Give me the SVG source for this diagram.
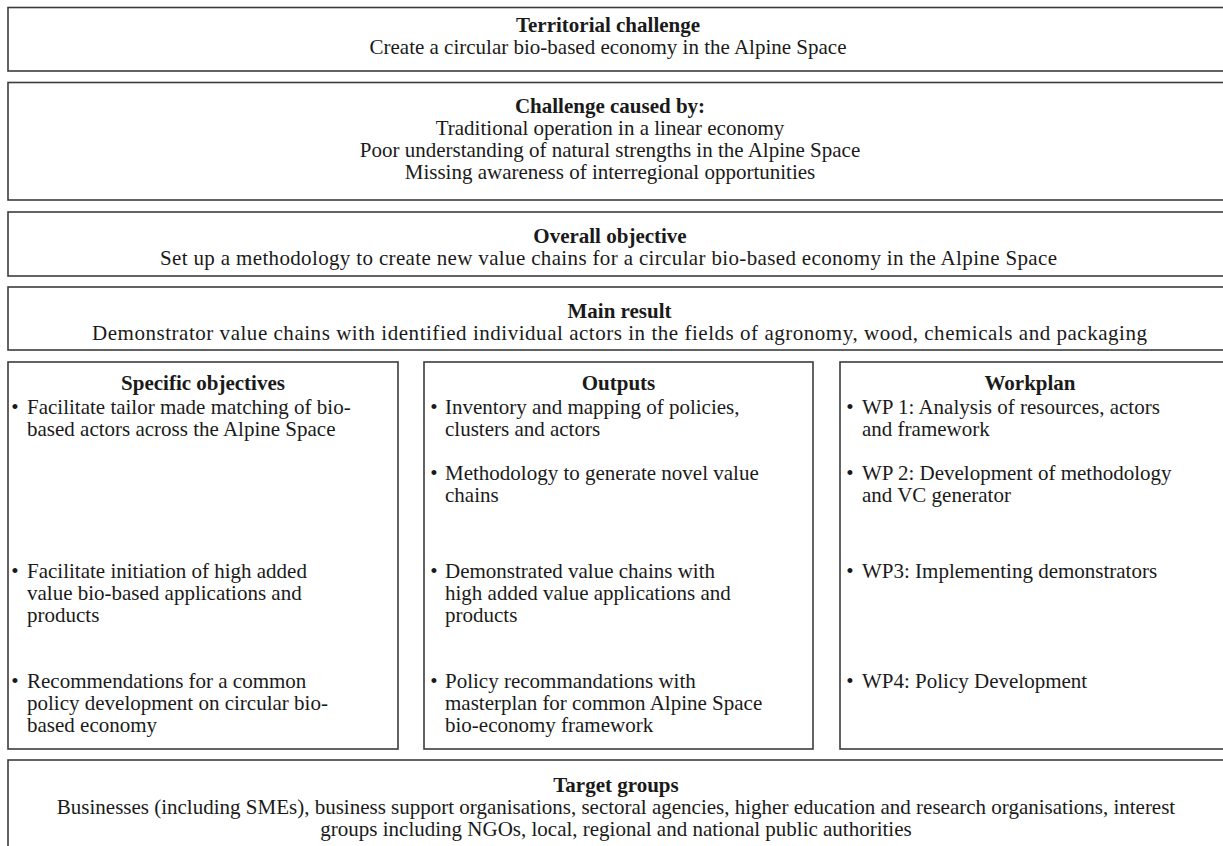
<svg xmlns="http://www.w3.org/2000/svg" width="1223" height="846" viewBox="0 0 1223 846">
<style>
.box{fill:#fff;stroke:#3c3c3c;stroke-width:1.6}
text{font-family:"Liberation Serif","Times New Roman",serif;font-size:21px;fill:#1a1a1a}
.h{font-weight:bold}
.c{text-anchor:middle}
</style>
<rect width="1223" height="846" fill="#fff"/>
<g id="territorial">
<rect class="box" x="8" y="7.5" width="1223" height="63.5"/>
<text class="h c" x="608" y="32">Territorial challenge</text>
<text class="c" x="608" y="54">Create a circular bio-based economy in the Alpine Space</text>
</g>
<g id="cause">
<rect class="box" x="8" y="82.5" width="1223" height="117.5"/>
<text class="h c" x="610" y="113">Challenge caused by:</text>
<text class="c" x="610" y="135">Traditional operation in a linear economy</text>
<text class="c" x="610" y="157">Poor understanding of natural strengths in the Alpine Space</text>
<text class="c" x="610" y="179">Missing awareness of interregional opportunities</text>
</g>
<g id="overall">
<rect class="box" x="8" y="212" width="1223" height="64"/>
<text class="h c" x="610" y="243">Overall objective</text>
<text x="160" y="265" textLength="897" lengthAdjust="spacing">Set up a methodology to create new value chains for a circular bio-based economy in the Alpine Space</text>
</g>
<g id="main">
<rect class="box" x="8" y="287" width="1223" height="63"/>
<text class="h c" x="619.5" y="318">Main result</text>
<text x="92" y="340" textLength="1055" lengthAdjust="spacing">Demonstrator value chains with identified individual actors in the fields of agronomy, wood, chemicals and packaging</text>
</g>
<g id="specific">
<rect class="box" x="8" y="362" width="390" height="387"/>
<text class="h c" x="203" y="390">Specific objectives</text>
<text class="c" x="15" y="414">•</text>
<text x="27" y="414">Facilitate tailor made matching of bio-</text>
<text x="27" y="436">based actors across the Alpine Space</text>
<text class="c" x="15" y="578">•</text>
<text x="27" y="578">Facilitate initiation of high added</text>
<text x="27" y="600">value bio-based applications and</text>
<text x="27" y="622">products</text>
<text class="c" x="15" y="688">•</text>
<text x="27" y="688">Recommendations for a common</text>
<text x="27" y="710">policy development on circular bio-</text>
<text x="27" y="732">based economy</text>
</g>
<g id="outputs">
<rect class="box" x="424" y="362" width="389" height="387"/>
<text class="h c" x="618.5" y="390">Outputs</text>
<text class="c" x="434" y="414">•</text>
<text x="445" y="414">Inventory and mapping of policies,</text>
<text x="445" y="436">clusters and actors</text>
<text class="c" x="434" y="480">•</text>
<text x="445" y="480">Methodology to generate novel value</text>
<text x="445" y="502">chains</text>
<text class="c" x="434" y="578">•</text>
<text x="445" y="578">Demonstrated value chains with</text>
<text x="445" y="600">high added value applications and</text>
<text x="445" y="622">products</text>
<text class="c" x="434" y="688">•</text>
<text x="445" y="688">Policy recommandations with</text>
<text x="445" y="710">masterplan for common Alpine Space</text>
<text x="445" y="732">bio-economy framework</text>
</g>
<g id="workplan">
<rect class="box" x="840" y="362" width="391" height="387"/>
<text class="h c" x="1030" y="390">Workplan</text>
<text class="c" x="850" y="414">•</text>
<text x="862" y="414">WP 1: Analysis of resources, actors</text>
<text x="862" y="436">and framework</text>
<text class="c" x="850" y="480">•</text>
<text x="862" y="480">WP 2: Development of methodology</text>
<text x="862" y="502">and VC generator</text>
<text class="c" x="850" y="578">•</text>
<text x="862" y="578">WP3: Implementing demonstrators</text>
<text class="c" x="850" y="688">•</text>
<text x="862" y="688">WP4: Policy Development</text>
</g>
<g id="target">
<rect class="box" x="8" y="760" width="1223" height="100"/>
<text class="h c" x="616" y="792">Target groups</text>
<text class="c" x="616" y="814">Businesses (including SMEs), business support organisations, sectoral agencies, higher education and research organisations, interest</text>
<text class="c" x="616" y="836">groups including NGOs, local, regional and national public authorities</text>
</g>
<g id="connectors"></g>
</svg>
